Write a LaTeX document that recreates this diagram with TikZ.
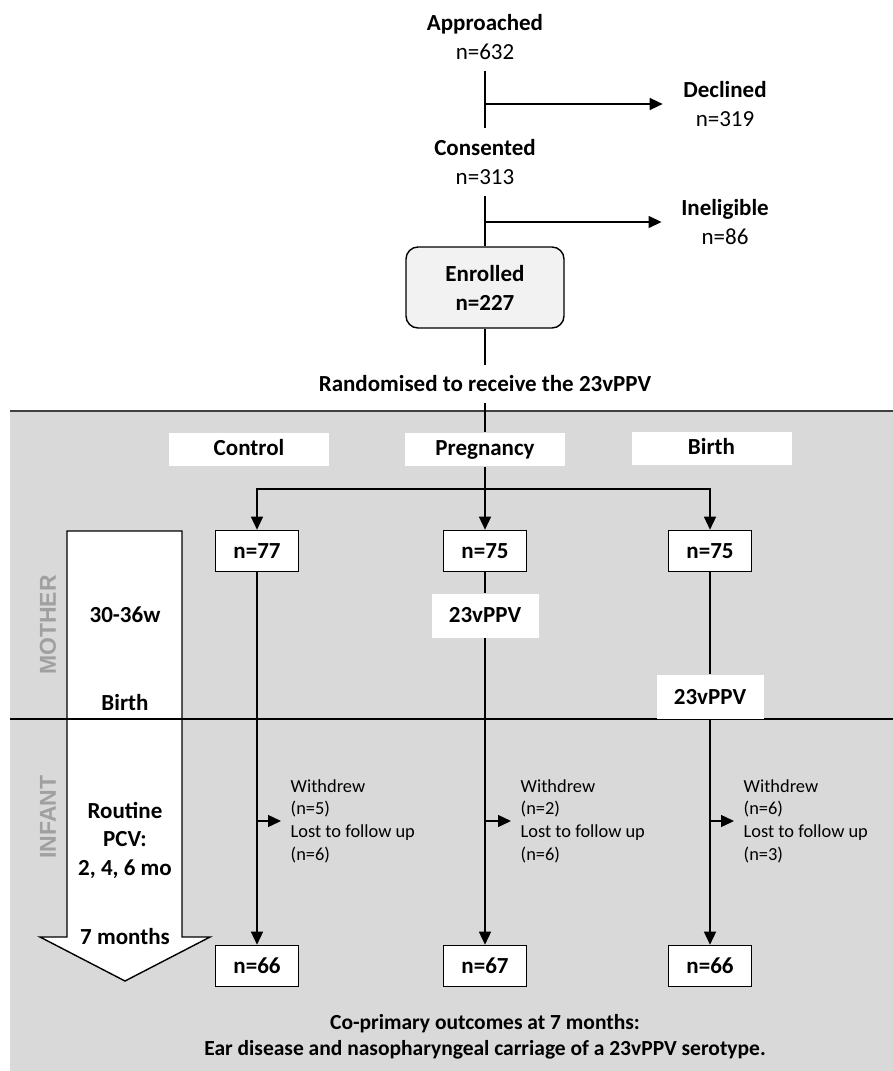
\documentclass[tikz,border=0pt]{standalone}
\usepackage{fontspec}
\setmainfont{Carlito}
\newfontfamily\sidefont{Liberation Sans}
\usetikzlibrary{arrows.meta}
\definecolor{bggray}{RGB}{217,217,217}
\definecolor{boxgray}{RGB}{242,242,242}
\definecolor{sidegray}{RGB}{160,160,160}
\definecolor{rulegray}{RGB}{64,64,64}

\begin{document}
\begin{tikzpicture}[x=1pt,y=-1pt,line width=1.4pt,
    arr/.style={-{Triangle[length=13pt,width=12pt]}},
    stage/.style={align=center,inner sep=0pt,outer ysep=11pt,font=\fontsize{23}{29}\selectfont},
    head/.style={inner sep=0pt,outer ysep=11pt,font=\fontsize{23}{29}\selectfont\bfseries},
    enrol/.style={draw,fill=boxgray,rounded corners=12pt,minimum width=158pt,minimum height=81pt,inner sep=0pt,align=center,font=\fontsize{23}{29}\selectfont\bfseries},
    grp/.style={fill=white,minimum width=160pt,minimum height=33pt,inner sep=0pt,text height=16pt,text depth=5pt,font=\fontsize{23}{28}\selectfont\bfseries},
    countbox/.style={draw,line width=1.6pt,fill=white,minimum width=83pt,minimum height=41pt,inner sep=0pt,font=\fontsize{23}{28}\selectfont\bfseries},
    vacc/.style={fill=white,minimum width=107pt,minimum height=44pt,inner sep=0pt,font=\fontsize{23}{28}\selectfont\bfseries},
    small/.style={anchor=west,align=left,inner sep=0pt,font=\fontsize{18.4}{22.6}\selectfont},
    tline/.style={align=center,inner sep=0pt,font=\fontsize{23}{28.5}\selectfont\bfseries},
    side/.style={inner sep=0pt,rotate=90,text=sidegray,font=\fontsize{23}{28}\sidefont\bfseries}
]
\useasboundingbox (0,0) rectangle (893,1071);

%Background band
\fill[bggray] (10,411) rectangle (893,1071);
\draw[rulegray,line width=2pt] (10,411) -- (893,411);

%Shape: timeline arrow
\draw[fill=white] (67,531) -- (182,531) -- (182,937) -- (210,937) -- (125,981) -- (40,937) -- (67,937) -- cycle;
%Straight Lines: mother / infant split
\draw[line width=1.2pt] (10,719) -- (893,719);

% Text Node
\node[stage] (appr) at (485,37) {\textbf{Approached}\\n=632};
\node[stage] (decl) at (725,104) {\textbf{Declined}\\n=319};
\node[stage] (cons) at (485,162) {\textbf{Consented}\\n=313};
\node[stage] (inel) at (725,222) {\textbf{Ineligible}\\n=86};
\node[enrol] (enr) at (485,287.5) {Enrolled\\n=227};
\node[head] (rand) at (485,384) {Randomised to receive the 23vPPV};

\draw (appr) -- (cons);
\draw[arr] (appr.south |- decl) -- ([xshift=-20pt]decl.west);
\draw (cons) -- (enr);
\draw[arr] (cons.south |- inel) -- ([xshift=-19pt]inel.west);
\draw (enr) -- (rand);

% Groups
\node[grp] (ctl) at (249,449.5) {Control};
\node[grp] (prg) at (485,449.5) {Pregnancy};
\node[grp] (brt) at (711.5,448.5) {Birth};
\coordinate (split) at (485,489);

\node[countbox] (c1) at (257,551) {n=77};
\node[countbox] (p1) at (485,551) {n=75};
\node[countbox] (b1) at (710,551) {n=75};

\draw (rand) -- (prg);
\draw (prg) -- (split);
\draw[arr] (split) -- (p1);
\draw[arr] (split) -| (c1);
\draw[arr] (split) -| (b1);

% Vaccine given
\node[vacc] (vp) at (485,615.5) {23vPPV};
\node[vacc] (vb) at (710,697) {23vPPV};

% Final counts
\node[countbox] (c2) at (257,966) {n=66};
\node[countbox] (p2) at (485,966) {n=67};
\node[countbox] (b2) at (710,966) {n=66};

\draw[arr] (c1) -- (c2);
\draw (p1) -- (vp);
\draw[arr] (vp) -- (p2);
\draw (b1) -- (vb);
\draw[arr] (vb) -- (b2);

% Losses
\node[small] (wc) at (290,821) {Withdrew\\(n=5)\\Lost to follow up\\(n=6)};
\node[small] (wp) at (520,821) {Withdrew\\(n=2)\\Lost to follow up\\(n=6)};
\node[small] (wb) at (743,821) {Withdrew\\(n=6)\\Lost to follow up\\(n=3)};
\draw[arr] (c1 |- wc.west) -- ([xshift=-9pt]wc.west);
\draw[arr] (p1 |- wp.west) -- ([xshift=-9pt]wp.west);
\draw[arr] (b1 |- wb.west) -- ([xshift=-9pt]wb.west);

% Timeline text
\node[side] (moth) at (48,625) {MOTHER};
\node[side] (inf) at (48,817) {INFANT};
\node[tline] (t1) at (125,615) {30-36w};
\node[tline] (t2) at (125,703) {Birth};
\node[tline] (t3) at (125,840) {Routine\\PCV:\\2, 4, 6 mo};
\node[tline] (t4) at (125,937) {7 months};

% Text Node
\node[align=center,inner sep=0pt,font=\fontsize{21.5}{26}\selectfont\bfseries] (outc) at (485,1037)
  {Co-primary outcomes at 7 months:\\Ear disease and nasopharyngeal carriage of a 23vPPV serotype.};

\end{tikzpicture}
\end{document}
